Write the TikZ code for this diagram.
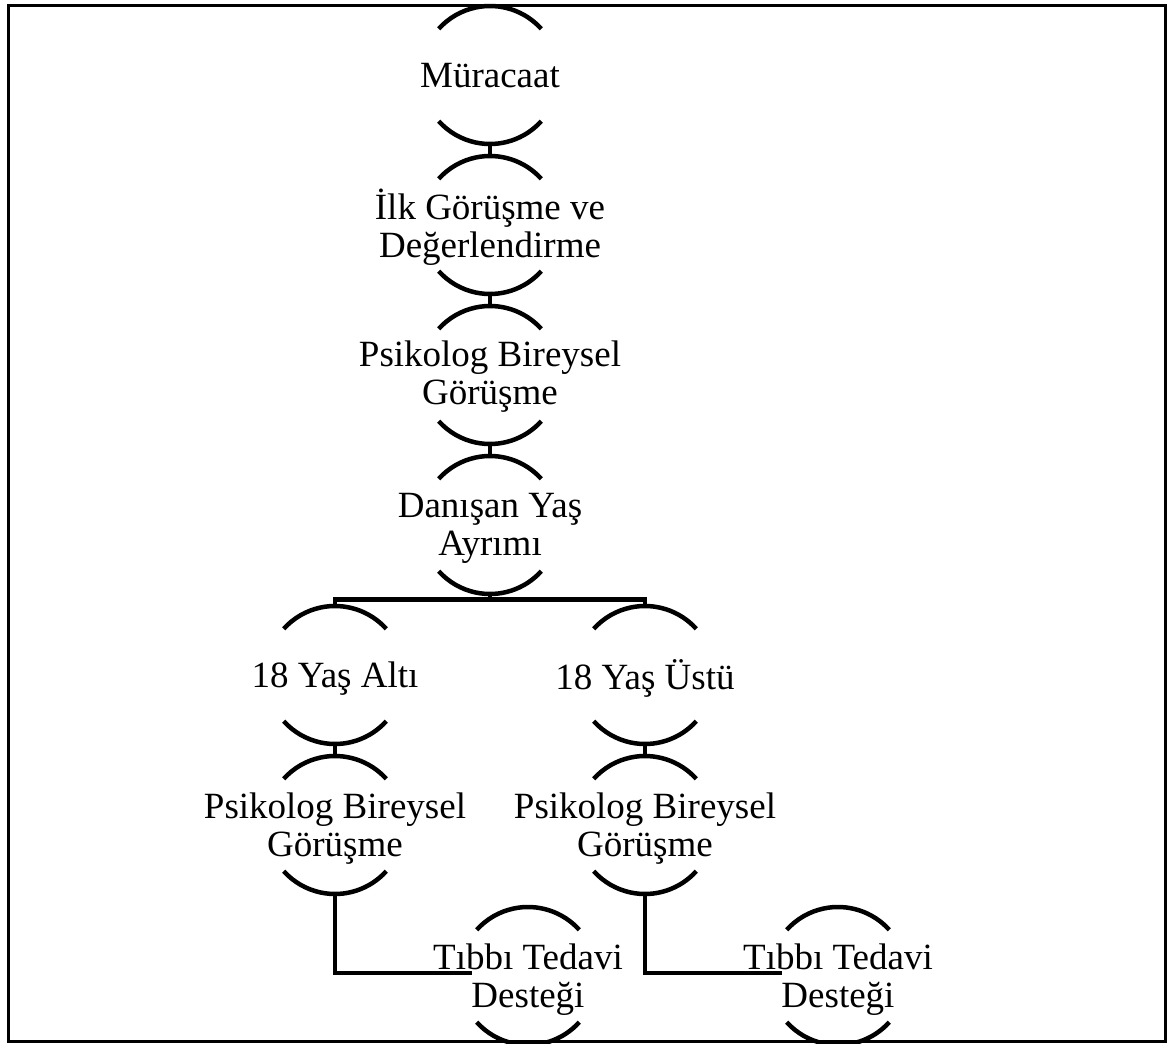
\documentclass[tikz,border=0pt]{standalone}
\usepackage{fontspec}
\setmainfont{Liberation Serif}
\newfontfamily\stagefont{Liberation Serif}
\begin{document}
\begin{tikzpicture}[x=1pt,y=1pt,
  stagetext/.style={align=center,inner sep=0pt,font=\stagefont\fontsize{37}{38}\selectfont},
  arcline/.style={line width=4.5pt},
  link/.style={line width=4.5pt},
  frameline/.style={line width=3pt}]
\useasboundingbox (0,0) rectangle (1168,-1044);
\newcommand\stage[5]{%
  \coordinate (#1-c) at (#2,#3);
  \path (#1-c) ++(0,69) coordinate (#1-t);
  \path (#1-c) ++(0,-69) coordinate (#1-b);
  \draw[arcline] (#1-c) ++(42:69) arc[start angle=42,end angle=138,radius=69];
  \draw[arcline] (#1-c) ++(-42:69) arc[start angle=-42,end angle=-138,radius=69];
  \node[stagetext,yshift=#5] (#1) at (#2,#3) {\strut#4\strut};
}
\stage{n1}{490}{-75}{Müracaat}{-5pt}
\stage{n2}{490}{-225}{İlk Görüşme ve\\Değerlendirme}{-4pt}
\stage{n3}{490}{-375}{Psikolog Bireysel\\Görüşme}{-3pt}
\stage{n4}{490}{-525}{Danışan Yaş\\Ayrımı}{-3.5pt}
\stage{n5}{335}{-675}{18 Yaş Altı}{-5pt}
\stage{n6}{645}{-675}{18 Yaş Üstü}{-5pt}
\stage{n7}{335}{-825}{Psikolog Bireysel\\Görüşme}{-5pt}
\stage{n10}{645}{-825}{Psikolog Bireysel\\Görüşme}{-5pt}
\stage{n8}{528}{-976}{Tıbbı Tedavi\\Desteği}{-5pt}
\stage{n9}{838}{-976}{Tıbbı Tedavi\\Desteği}{-5pt}
\coordinate (bar) at (490,-599.5);
\coordinate (e8) at (472,-973);
\coordinate (e9) at (782,-973);
\draw[link] (n1-b) -- (n2-t);
\draw[link] (n2-b) -- (n3-t);
\draw[link] (n3-b) -- (n4-t);
\draw[link] (n4-b) -- (bar);
\draw[link] (n5-t) |- (bar) -| (n6-t);
\draw[link] (n5-b) -- (n7-t);
\draw[link] (n6-b) -- (n10-t);
\draw[link] (n7-b) |- (e8);
\draw[link] (n10-b) |- (e9);
\draw[frameline] (8.5,-5.5) rectangle (1165.5,-1041.5);
\end{tikzpicture}
\end{document}
